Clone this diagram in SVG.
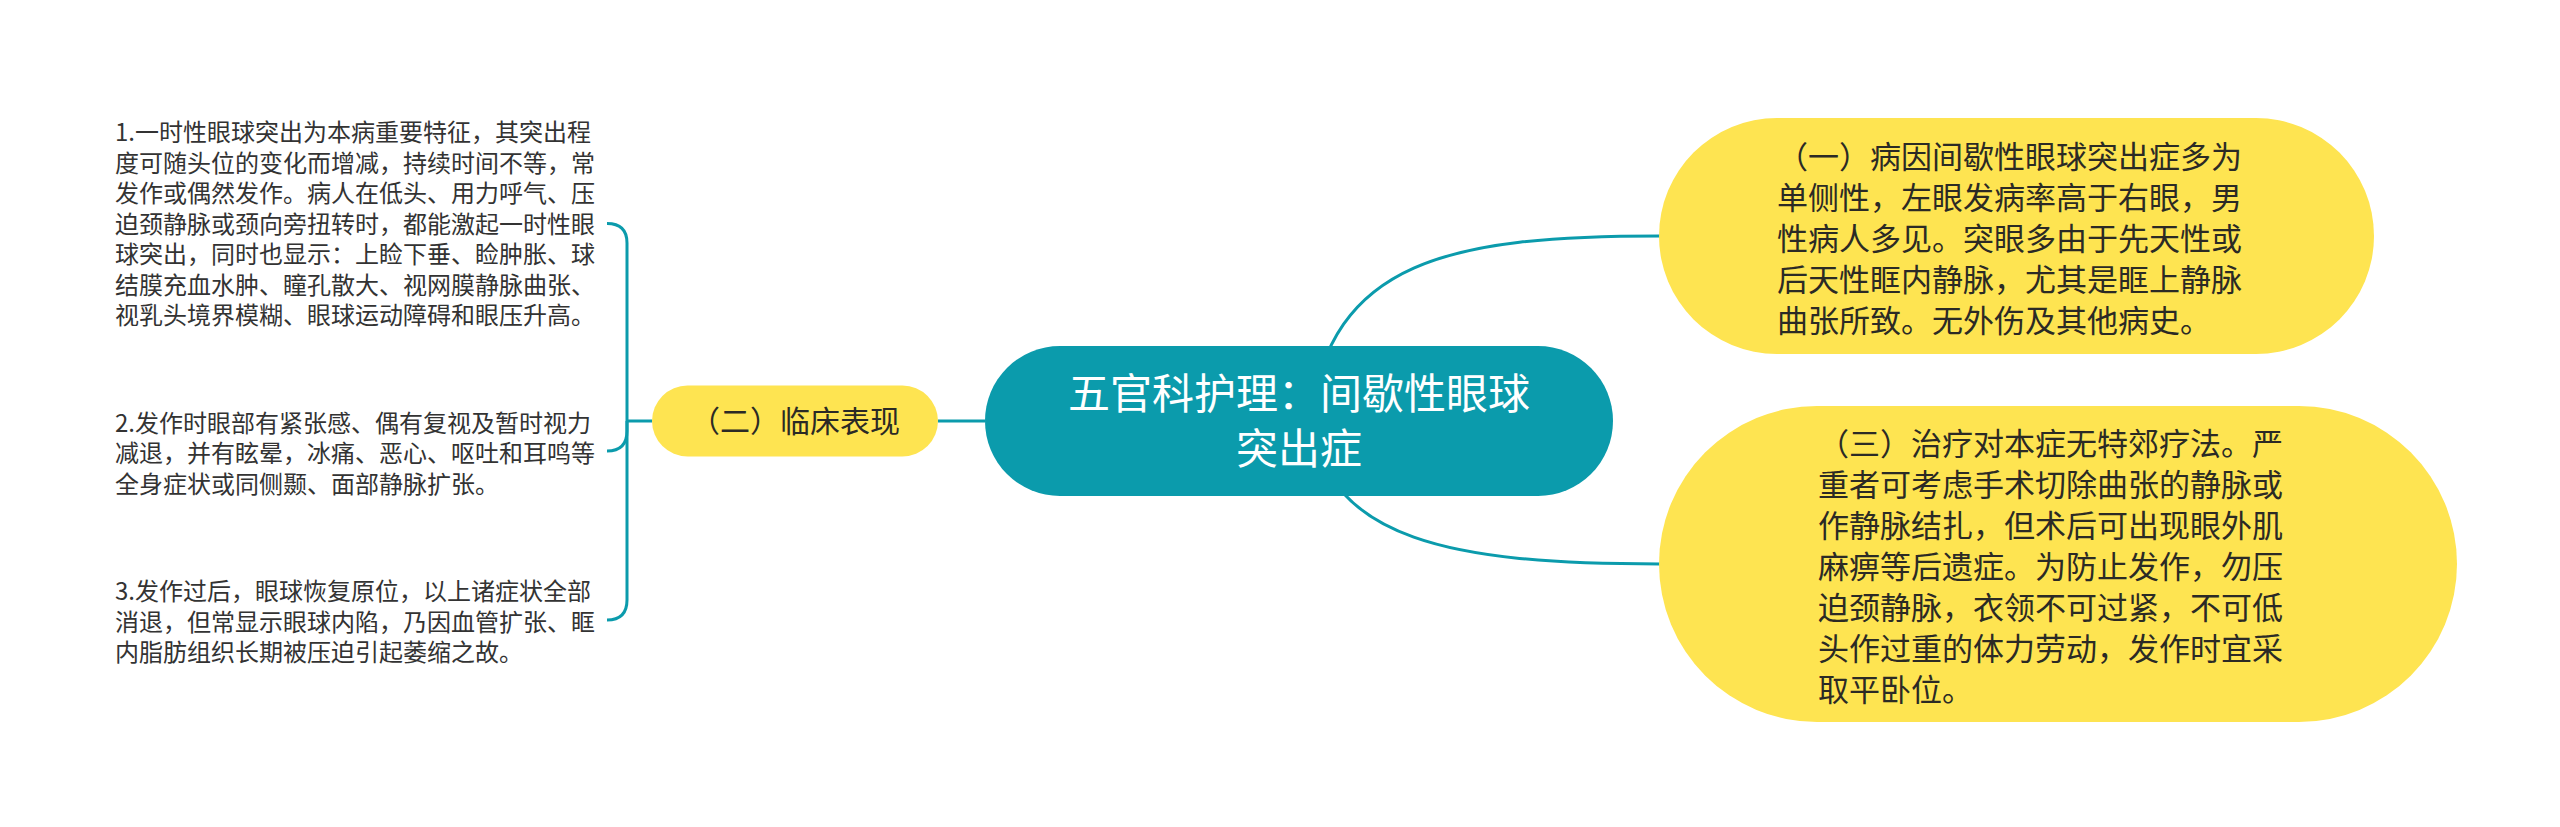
<svg xmlns="http://www.w3.org/2000/svg" width="2560" height="827" viewBox="0 0 2560 827">
<style>
.conn{fill:none;stroke:#0B9BAC;stroke-width:3;}
.yel{fill:#FEE451;}
.root{fill:#0B9BAC;}
.t{font-family:"Noto Sans CJK SC","Microsoft YaHei",sans-serif;}
.rt{font-size:42px;fill:#FFFFFF;text-anchor:middle;}
.yt{font-size:31px;fill:#2B2A25;}
.lt{font-size:24px;fill:#333333;}
</style>
<rect width="2560" height="827" fill="#FFFFFF"/>
<g id="connectors">
<path class="conn" d="M1310 421 C1330 260 1450 236 1660 236"/>
<path class="conn" d="M1310 421 C1330 540 1450 564 1660 564"/>
<path class="conn" d="M938 421 H985"/>
<path class="conn" d="M652 421 H627"/>
<path class="conn" d="M627 421 V243 Q627 223.5 607 223.5"/>
<path class="conn" d="M627 421 V431 Q627 451 607 451"/>
<path class="conn" d="M627 421 V600 Q627 620 607 620"/>
</g>
<g id="root">
<rect class="root" x="985" y="346" width="628" height="150" rx="75" ry="75"/>
<text class="t rt" x="1299" y="409">五官科护理：间歇性眼球</text>
<text class="t rt" x="1299" y="464">突出症</text>
</g>
<g id="node-cause">
<rect class="yel" x="1659" y="118" width="715" height="236" rx="118" ry="118"/>
<text class="t yt" x="1777" y="168">（一）病因间歇性眼球突出症多为</text>
<text class="t yt" x="1777" y="209">单侧性，左眼发病率高于右眼，男</text>
<text class="t yt" x="1777" y="250">性病人多见。突眼多由于先天性或</text>
<text class="t yt" x="1777" y="291">后天性眶内静脉，尤其是眶上静脉</text>
<text class="t yt" x="1777" y="332">曲张所致。无外伤及其他病史。</text>
</g>
<g id="node-treatment">
<rect class="yel" x="1659" y="406" width="798" height="316" rx="158" ry="158"/>
<text class="t yt" x="1818" y="455">（三）治疗对本症无特郊疗法。严</text>
<text class="t yt" x="1818" y="496">重者可考虑手术切除曲张的静脉或</text>
<text class="t yt" x="1818" y="537">作静脉结扎，但术后可出现眼外肌</text>
<text class="t yt" x="1818" y="578">麻痹等后遗症。为防止发作，勿压</text>
<text class="t yt" x="1818" y="619">迫颈静脉，衣领不可过紧，不可低</text>
<text class="t yt" x="1818" y="660">头作过重的体力劳动，发作时宜采</text>
<text class="t yt" x="1818" y="701">取平卧位。</text>
</g>
<g id="node-clinical">
<rect class="yel" x="652" y="385.5" width="286" height="71" rx="35.5" ry="35.5"/>
<text class="t" x="795" y="432" font-size="30" fill="#2B2A25" text-anchor="middle">（二）临床表现</text>
</g>
<g id="item-1">
<text class="t lt" x="115" y="141">1.一时性眼球突出为本病重要特征，其突出程</text>
<text class="t lt" x="115" y="171.5">度可随头位的变化而增减，持续时间不等，常</text>
<text class="t lt" x="115" y="202">发作或偶然发作。病人在低头、用力呼气、压</text>
<text class="t lt" x="115" y="232.5">迫颈静脉或颈向旁扭转时，都能激起一时性眼</text>
<text class="t lt" x="115" y="263">球突出，同时也显示：上睑下垂、睑肿胀、球</text>
<text class="t lt" x="115" y="293.5">结膜充血水肿、瞳孔散大、视网膜静脉曲张、</text>
<text class="t lt" x="115" y="324">视乳头境界模糊、眼球运动障碍和眼压升高。</text>
</g>
<g id="item-2">
<text class="t lt" x="115" y="431.5">2.发作时眼部有紧张感、偶有复视及暂时视力</text>
<text class="t lt" x="115" y="462">减退，并有眩晕，冰痛、恶心、呕吐和耳鸣等</text>
<text class="t lt" x="115" y="492.5">全身症状或同侧颞、面部静脉扩张。</text>
</g>
<g id="item-3">
<text class="t lt" x="115" y="600">3.发作过后，眼球恢复原位，以上诸症状全部</text>
<text class="t lt" x="115" y="630.5">消退，但常显示眼球内陷，乃因血管扩张、眶</text>
<text class="t lt" x="115" y="661">内脂肪组织长期被压迫引起萎缩之故。</text>
</g>
</svg>
